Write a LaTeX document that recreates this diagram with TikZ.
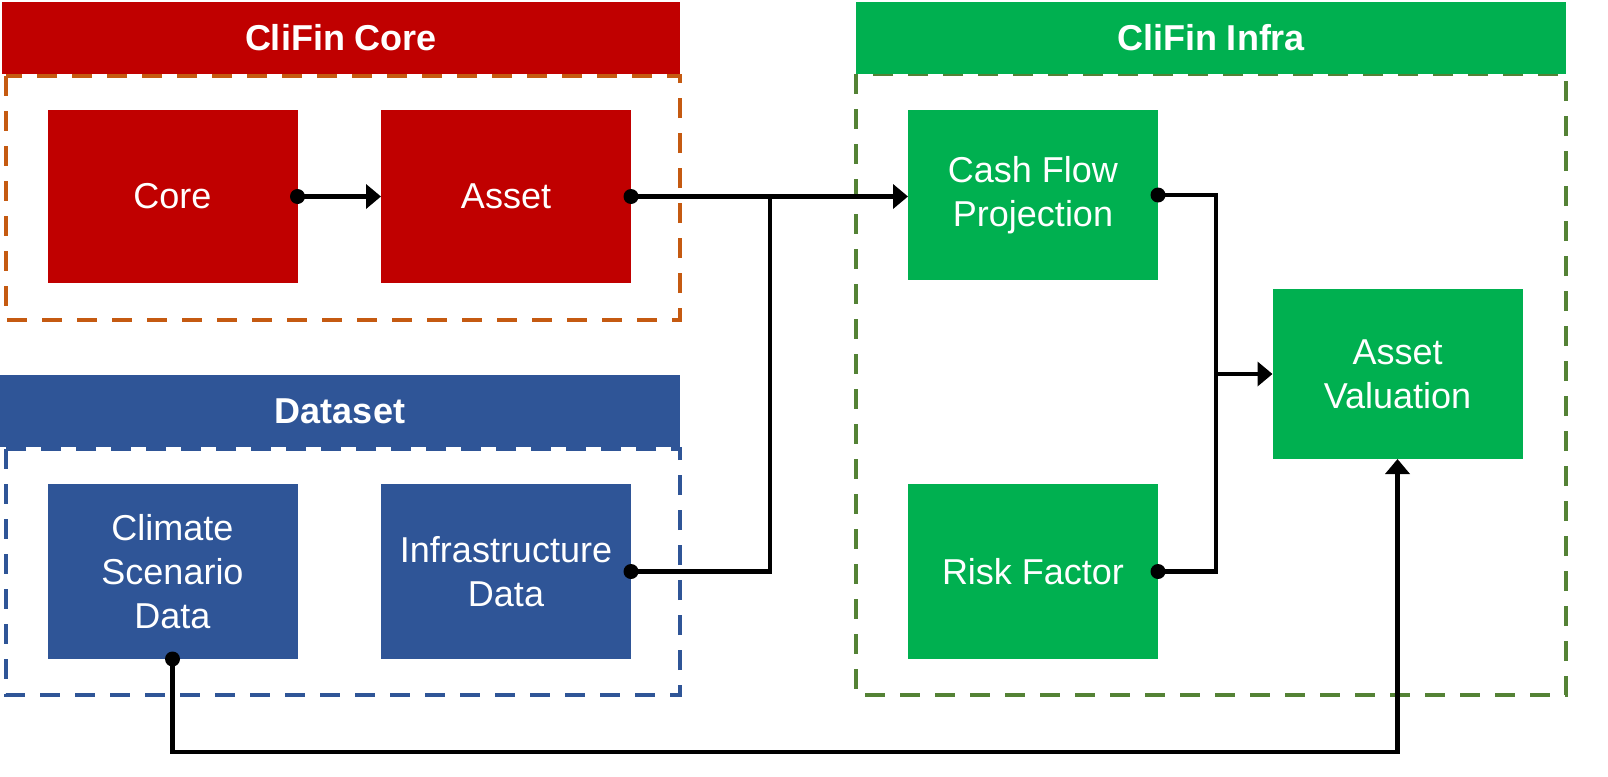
\documentclass[tikz,border=0pt]{standalone}
\usepackage{fontspec}
\setmainfont{Liberation Sans}
\usetikzlibrary{arrows.meta}
\definecolor{cred}{HTML}{C00000}
\definecolor{corange}{HTML}{C55A11}
\definecolor{cblue}{HTML}{2F5597}
\definecolor{cgreen}{HTML}{00B050}
\definecolor{cdgreen}{HTML}{548235}
\tikzset{
  box/.style={inner sep=0pt, outer sep=0pt, text=white, align=center,
    minimum width=250pt, font=\fontsize{36}{44}\selectfont},
  header/.style={inner sep=0pt, outer sep=0pt, text=white,
    minimum height=72pt, font=\bfseries\fontsize{36}{44}\selectfont},
  group/.style={line width=3.6pt, dash pattern=on 20pt off 15pt},
  conn/.style={line width=4.2pt, line join=miter},
  tri/.style={-{Triangle[length=15pt,width=24pt]}},
  dotc/.style={fill=black},
}
\begin{document}
\begin{tikzpicture}[x=1pt,y=-1pt]
\useasboundingbox (0,0) rectangle (1608,776);
% group frames
\draw[group, corange] (6,76) rectangle (680,320);
\draw[group, cblue] (6,449) rectangle (680,695);
\draw[group, cdgreen] (856,74) rectangle (1566,695);
% headers
\node[header, fill=cred, minimum width=678pt] (hcore) at (341,38) {CliFin Core};
\node[header, fill=cblue, minimum width=680pt] (hdata) at (340,411) {Dataset};
\node[header, fill=cgreen, minimum width=710pt] (hinfra) at (1211,38) {CliFin Infra};
% boxes
\node[box, fill=cred, minimum height=173pt] (core) at (172.5,196.5) {Core};
\node[box, fill=cred, minimum height=173pt] (asset) at (506,196.5) {Asset};
\node[box, fill=cblue, minimum height=175pt] (clim) at (172.5,571.5) {Climate\\Scenario\\Data};
\node[box, fill=cblue, minimum height=175pt] (infra) at (506,571.5) {Infrastructure\\Data};
\node[box, fill=cgreen, minimum height=170pt] (cash) at (1033,195) {Cash Flow\\Projection};
\node[box, fill=cgreen, minimum height=175pt] (risk) at (1033,571.5) {Risk Factor};
\node[box, fill=cgreen, minimum height=170pt] (val) at (1397.5,374) {Asset\\Valuation};
% junctions
\coordinate (j1) at (770,196.5);
\coordinate (j2) at (1216,374);
\coordinate (j3) at (800,752);
% connectors
\draw[conn, tri] (core.east) -- (asset.west);
\draw[conn, tri] (asset.east) -- (asset.east -| cash.west);
\draw[conn] (infra.east) -| (j1);
\draw[conn] (cash.east) -| (j2) |- (risk.east);
\draw[conn, tri] (j2) -- (val.west);
\draw[conn, tri] (clim.south) |- (j3) -| (val.south);
% dots
\fill[dotc] (core.east) circle (7.5pt);
\fill[dotc] (asset.east) circle (7.5pt);
\fill[dotc] (infra.east) circle (7.5pt);
\fill[dotc] (cash.east) circle (7.5pt);
\fill[dotc] (risk.east) circle (7.5pt);
\fill[dotc] (clim.south) circle (7.5pt);
\end{tikzpicture}
\end{document}
